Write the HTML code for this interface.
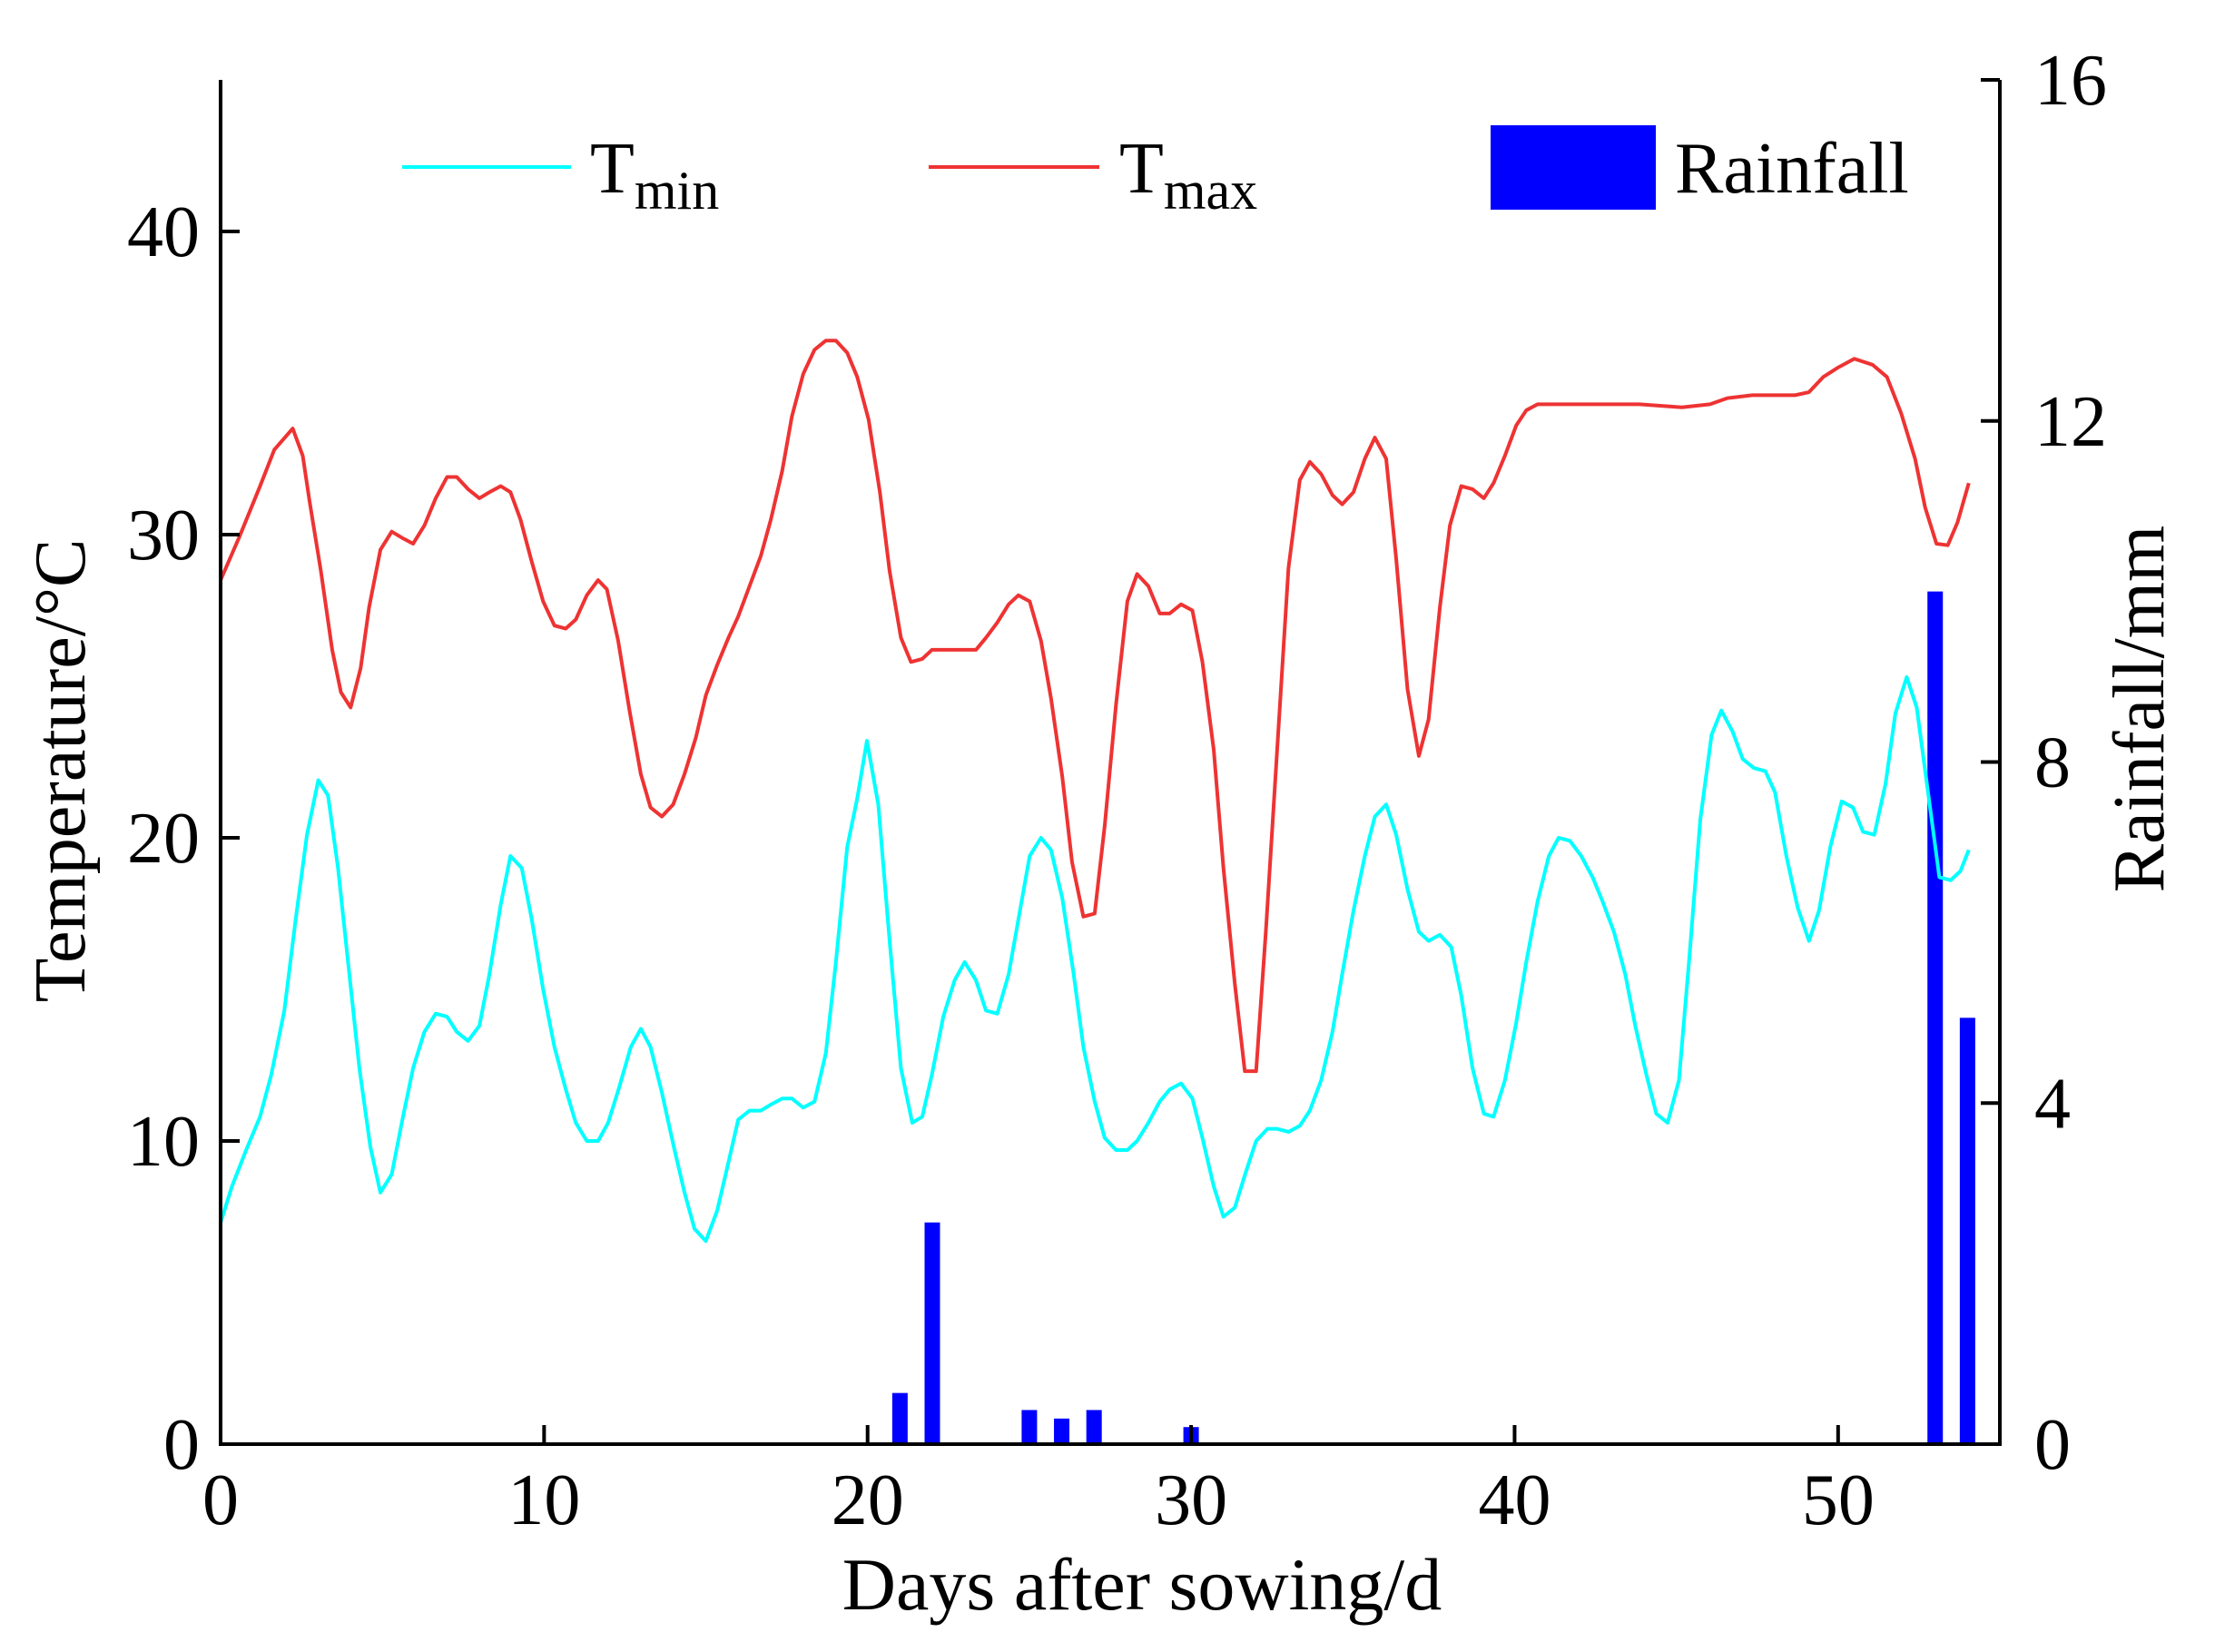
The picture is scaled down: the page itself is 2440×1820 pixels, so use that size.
<!DOCTYPE html>
<html><head><meta charset="utf-8"><style>
html,body{margin:0;padding:0;background:#fff;}
svg{display:block;font-family:"Liberation Serif",serif;}
</style></head><body>
<svg id="chart" width="2440" height="1820" viewBox="0 0 2440 1820" xmlns="http://www.w3.org/2000/svg">
<rect width="2440" height="1820" fill="#fff"/>
<g id="bars"></g>
<g id="lines"></g>
<g id="axes"></g>
<g>
 <line x1="443" y1="184" x2="629" y2="184" stroke="#00ffff" stroke-width="4"/>
 <text x="650" y="212" font-size="80">T<tspan font-size="60" dy="18">min</tspan></text>
 <line x1="1023" y1="184" x2="1211" y2="184" stroke="#ee3333" stroke-width="4"/>
 <text x="1233" y="212" font-size="80">T<tspan font-size="60" dy="18">max</tspan></text>
 <rect x="1642" y="138" width="182" height="93" fill="#0000ff"/>
 <text x="1845" y="212" font-size="80">Rainfall</text>
</g>
<text x="1258" y="1773" font-size="82" text-anchor="middle">Days after sowing/d</text>
<text transform="translate(93,849) rotate(-90)" font-size="80" text-anchor="middle">Temperature/°C</text>
<text transform="translate(2383,781) rotate(-90)" font-size="80" text-anchor="middle">Rainfall/mm</text>
</svg>
<script>
const tmaxDays=[0,0.57,1.22,1.66,2.23,2.54,2.75,3.10,3.45,3.72,4.02,4.33,4.59,4.94,5.29,5.60,5.95,6.30,6.65,7.00,7.30,7.65,8.00,8.31,8.66,8.96,9.27,9.62,9.97,10.32,10.67,10.98,11.32,11.67,11.94,12.29,12.64,12.99,13.29,13.64,13.99,14.34,14.69,15.00,15.35,15.70,16.00,16.35,16.70,17.01,17.36,17.66,18.01,18.36,18.71,19.02,19.37,19.68,20.03,20.38,20.68,21.03,21.34,21.69,21.99,22.34,22.65,23.00,23.35,23.66,24.01,24.36,24.66,25.01,25.36,25.67,26.02,26.32,26.67,27.02,27.33,27.68,28.03,28.33,28.68,29.03,29.34,29.69,30.04,30.35,30.70,31.00,31.35,31.66,32.01,32.31,32.66,33.01,33.36,33.67,34.02,34.37,34.67,35.02,35.37,35.68,36.03,36.34,36.69,37.04,37.34,37.69,38.00,38.35,38.70,39.05,39.35,39.70,40.05,40.36,40.71,43.86,45.17,46.04,46.57,47.35,48.67,49.10,49.54,49.98,50.50,51.07,51.51,51.95,52.38,52.69,53.04,53.39,53.69,54.04];
const tmaxVals=[28.5,29.9,31.6,32.8,33.5,32.6,31.1,28.8,26.2,24.8,24.3,25.6,27.6,29.5,30.1,29.9,29.7,30.3,31.2,31.9,31.9,31.5,31.2,31.4,31.6,31.4,30.5,29.1,27.8,27.0,26.9,27.2,28.0,28.5,28.2,26.5,24.2,22.1,21.0,20.7,21.1,22.1,23.3,24.7,25.7,26.6,27.3,28.3,29.3,30.5,32.1,33.9,35.3,36.1,36.4,36.4,36.0,35.2,33.8,31.4,28.8,26.6,25.8,25.9,26.2,26.2,26.2,26.2,26.2,26.6,27.1,27.7,28.0,27.8,26.5,24.6,22.0,19.2,17.4,17.5,20.4,24.4,27.8,28.7,28.3,27.4,27.4,27.7,27.5,25.8,22.9,19.0,15.2,12.3,12.3,16.9,22.9,28.9,31.8,32.4,32.0,31.3,31.0,31.4,32.5,33.2,32.5,29.2,24.9,22.7,23.9,27.6,30.3,31.6,31.5,31.2,31.7,32.6,33.6,34.1,34.3,34.3,34.2,34.3,34.5,34.6,34.6,34.7,35.2,35.5,35.8,35.6,35.2,34.0,32.5,30.9,29.7,29.65,30.4,31.7];
const tminDays=[0,0.35,0.79,1.22,1.57,1.97,2.32,2.67,3.02,3.32,3.63,3.98,4.29,4.63,4.94,5.29,5.60,5.95,6.30,6.65,7.00,7.30,7.65,8.00,8.31,8.66,8.96,9.31,9.62,9.97,10.32,10.67,10.98,11.32,11.67,11.98,12.33,12.68,12.99,13.29,13.64,13.99,14.34,14.65,15.00,15.35,15.70,16.00,16.35,16.70,17.01,17.36,17.66,18.01,18.36,18.71,19.02,19.37,19.68,19.98,20.33,20.68,21.03,21.38,21.69,21.99,22.34,22.69,23.00,23.35,23.66,24.01,24.36,24.66,25.01,25.36,25.67,26.02,26.37,26.67,27.02,27.33,27.68,28.03,28.33,28.68,29.03,29.34,29.69,30.04,30.35,30.70,31.00,31.35,31.70,32.01,32.36,32.66,33.01,33.36,33.67,34.02,34.37,34.67,35.02,35.37,35.68,36.03,36.34,36.69,37.04,37.34,37.69,38.04,38.35,38.70,39.05,39.35,39.70,40.05,40.36,40.71,41.06,41.36,41.71,42.06,42.41,42.72,43.07,43.42,43.73,44.07,44.38,44.73,45.08,45.39,45.74,46.09,46.39,46.74,47.05,47.40,47.75,48.05,48.40,48.75,49.10,49.41,49.76,50.11,50.46,50.77,51.12,51.47,51.77,52.12,52.43,52.78,53.13,53.48,53.78,54.04];
const tminVals=[7.3,8.5,9.7,10.8,12.2,14.3,17.3,20.1,21.9,21.4,19.0,15.5,12.4,9.8,8.3,8.9,10.6,12.4,13.6,14.2,14.1,13.6,13.3,13.8,15.5,17.8,19.4,19.0,17.3,15.0,13.1,11.7,10.6,10.0,10.0,10.6,11.8,13.1,13.7,13.1,11.6,9.9,8.3,7.1,6.7,7.7,9.3,10.7,11.0,11.0,11.2,11.4,11.4,11.1,11.3,12.9,15.9,19.7,21.3,23.2,21.1,16.6,12.4,10.6,10.8,12.2,14.1,15.3,15.9,15.3,14.3,14.2,15.5,17.3,19.4,20.0,19.6,18.0,15.5,13.1,11.3,10.1,9.7,9.7,10.0,10.6,11.3,11.7,11.9,11.4,10.1,8.5,7.5,7.8,9.0,10.0,10.4,10.4,10.3,10.5,11.0,12.0,13.6,15.5,17.6,19.4,20.7,21.1,20.1,18.3,16.9,16.6,16.8,16.4,14.8,12.4,10.9,10.8,12.0,13.9,15.9,17.9,19.4,20.0,19.9,19.4,18.7,17.9,16.9,15.5,13.8,12.2,10.9,10.6,12.0,15.9,20.6,23.4,24.2,23.5,22.6,22.3,22.2,21.5,19.4,17.7,16.6,17.6,19.7,21.2,21.0,20.2,20.1,21.8,24.1,25.3,24.3,21.5,18.7,18.6,18.9,19.6];
const rainDays=[21,22,25,26,27,30,53,54];
const rainVals=[0.6,2.6,0.4,0.3,0.4,0.2,10.0,5.0];
const xTicks=[0,10,20,30,40,50];
const yTicks=[0,10,20,30,40];
const y2Ticks=[0,4,8,12,16];

const NS='http://www.w3.org/2000/svg';
const L=243,R=2203,T=88,B=1591;
const X=d=>L+(d-0)/(55-0)*(R-L);
const Y=v=>B-v/45*(B-T);
const Y2=v=>B-v/16*(B-T);
function mk(tag,attrs,parent){const e=document.createElementNS(NS,tag);for(const k in attrs)e.setAttribute(k,attrs[k]);parent.appendChild(e);return e;}

const bars=document.getElementById('bars');
rainDays.forEach((d,i)=>{
  const r=mk('rect',{x:X(d)-8.5,y:Y2(rainVals[i]),width:17,height:B-Y2(rainVals[i]),fill:'#0000ff'},bars);
  
  
});
const lines=document.getElementById('lines');
const pMin=mk('polyline',{points:tminDays.map((d,i)=>X(d)+','+Y(tminVals[i])).join(' '),fill:'none',stroke:'#00ffff','stroke-width':4,'stroke-linejoin':'round'},lines);


const pMax=mk('polyline',{points:tmaxDays.map((d,i)=>X(d)+','+Y(tmaxVals[i])).join(' '),fill:'none',stroke:'#ee3333','stroke-width':4,'stroke-linejoin':'round'},lines);



const ax=document.getElementById('axes');
const frame=mk('path',{d:`M${L},${T} V${B} H${R} V${T}`,fill:'none',stroke:'#000','stroke-width':4},ax);


xTicks.forEach(t=>{
  mk('line',{x1:X(t),x2:X(t),y1:B,y2:B-21,stroke:'#000','stroke-width':4},ax);
  const tx=mk('text',{x:X(t),y:1679,'font-size':80,'text-anchor':'middle'},ax);
  tx.textContent=t;
  
  
});
yTicks.forEach(t=>{
  mk('line',{x1:L,x2:L+21,y1:Y(t),y2:Y(t),stroke:'#000','stroke-width':4},ax);
  const tx=mk('text',{x:220,y:Y(t)+27,'font-size':80,'text-anchor':'end'},ax);
  tx.textContent=t;
  
  
});
y2Ticks.forEach(t=>{
  mk('line',{x1:R,x2:R-21,y1:Y2(t),y2:Y2(t),stroke:'#000','stroke-width':4},ax);
  const tx=mk('text',{x:2241,y:Y2(t)+27,'font-size':80,'text-anchor':'start'},ax);
  tx.textContent=t;
  
  
});
</script>
</body></html>
